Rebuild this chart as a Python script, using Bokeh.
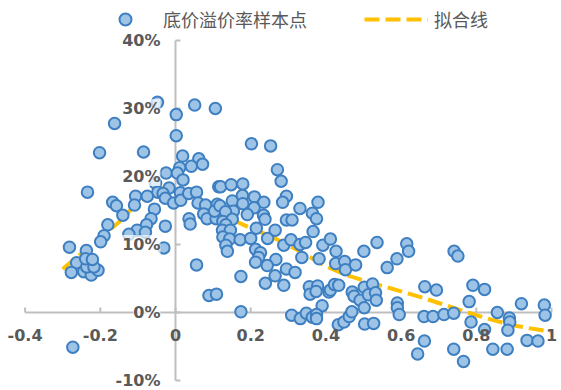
from bokeh.plotting import figure
from bokeh.models import Range1d, Legend, LegendItem
from bokeh.core.properties import value
from bokeh.embed import file_html
from bokeh.resources import INLINE

# ---- data ----
x_ratio = [
    -0.048, -0.162, -0.202, -0.085, -0.234, -0.053, -0.017, -0.047, -0.033, -0.027,
    -0.005, -0.106, -0.075, -0.167, -0.157, -0.109, -0.056, -0.140, -0.065, -0.077,
    -0.027, -0.180, -0.102, -0.124, -0.080, -0.190, -0.199, -0.282, -0.237, -0.031,
    -0.263, -0.277, -0.244, -0.224, -0.206, -0.236, -0.217, -0.239, -0.221, -0.273,
    0.002, 0.051, 0.106, 0.002, 0.019, 0.062, 0.072, 0.042, 0.011, -0.025,
    0.005, 0.020, 0.115, 0.013, 0.014, 0.035, 0.056, 0.060, 0.080, 0.111,
    0.075, 0.084, 0.108, 0.104, 0.036, 0.039, 0.120, 0.148, 0.179, 0.202,
    0.253, 0.271, 0.281, 0.118, 0.151, 0.178, 0.179, 0.210, 0.235, 0.209,
    0.154, 0.133, 0.191, 0.234, 0.238, 0.126, 0.151, 0.134, 0.125, 0.146,
    0.126, 0.144, 0.134, 0.138, 0.172, 0.200, 0.215, 0.245, 0.265, 0.288,
    0.307, 0.331, 0.346, 0.366, 0.392, 0.412, 0.427, 0.382, 0.336, 0.267,
    0.244, 0.295, 0.318, 0.265, 0.174, 0.056, 0.213, 0.226, 0.221, 0.213,
    0.426, 0.450, 0.452, 0.479, 0.501, 0.536, 0.563, 0.589, 0.615, 0.620,
    0.741, 0.751, 0.239, 0.288, 0.356, 0.378, 0.358, 0.374, 0.408, 0.412,
    0.423, 0.434, 0.470, 0.475, 0.491, 0.502, 0.524, 0.513, 0.532, 0.534,
    0.502, 0.390, 0.174, 0.089, 0.109, 0.309, 0.332, 0.348, 0.364, 0.375,
    0.375, 0.433, 0.448, 0.462, 0.469, 0.503, 0.527, 0.663, 0.694, 0.791,
    0.822, 0.781, 0.590, 0.590, 0.595, 0.661, 0.685, 0.714, 0.740, 0.786,
    0.822, 0.856, 0.888, 0.889, 0.884, 0.920, 0.981, 0.983, 0.662, 0.644,
    0.740, 0.766, 0.844, 0.882, 0.935, 0.964, 0.295, 0.285, 0.331, 0.379,
    0.364, 0.375, 0.295, 0.310,
]
premium_pct = [
    30.9, 27.8, 23.5, 23.6, 17.7, 19.0, 18.3, 17.7, 17.5, 16.8,
    16.1, 17.1, 17.1, 16.2, 15.7, 15.8, 15.2, 14.3, 13.8, 12.9,
    12.7, 12.9, 12.1, 11.5, 11.8, 11.3, 10.4, 9.6, 9.1, 9.5,
    7.3, 5.9, 6.0, 5.5, 6.2, 6.7, 6.7, 7.9, 7.8, -5.1,
    29.1, 30.5, 30.0, 26.0, 23.0, 22.6, 21.8, 21.5, 21.3, 20.5,
    20.5, 19.5, 18.5, 17.6, 16.5, 17.5, 17.7, 16.1, 15.8, 15.9,
    14.5, 13.8, 13.8, 14.9, 13.8, 13.0, 18.5, 18.8, 18.9, 24.8,
    24.5, 21.0, 19.3, 15.7, 16.4, 17.2, 16.0, 17.0, 16.2, 15.4,
    14.9, 14.8, 14.4, 14.3, 13.7, 13.4, 13.7, 12.9, 12.1, 12.1,
    11.1, 10.8, 9.9, 9.0, 10.7, 10.9, 12.4, 10.9, 12.1, 9.9,
    10.7, 10.0, 10.3, 11.9, 9.9, 10.8, 9.0, 7.9, 8.1, 7.8,
    6.9, 6.4, 5.9, 5.4, 5.3, 7.0, 9.3, 8.8, 8.1, 7.4,
    7.2, 7.5, 6.3, 7.0, 9.0, 10.3, 6.6, 7.9, 10.1, 9.0,
    9.0, 8.3, 4.3, 4.0, 3.8, 3.9, 2.7, 3.1, 3.0, 3.3,
    4.1, 4.0, 3.0, 2.4, 1.8, 3.7, 4.2, 2.6, 2.9, 1.8,
    0.7, 1.0, 0.1, 2.5, 2.7, -0.4, -0.9, -0.1, -0.7, -0.3,
    -0.9, -1.8, -1.4, -0.6, 0.1, -1.7, -1.6, 3.8, 3.3, 4.0,
    3.4, 1.6, 1.4, 0.7, -0.3, -0.6, -0.6, -0.3, -0.1, -1.4,
    -2.5, 0.0, -0.8, -1.4, -2.6, 1.3, 1.1, -0.4, -4.2, -6.1,
    -5.4, -7.2, -5.4, -5.4, -4.1, -4.2, 17.1, 16.2, 15.3, 16.2,
    14.6, 13.8, 13.6, 13.6,
]
fit_x = [-0.30, -0.25, -0.20, -0.15, -0.10, -0.05, -0.02, 0.00, 0.05, 0.10,
         0.15, 0.20, 0.25, 0.30, 0.35, 0.40, 0.45, 0.50, 0.55, 0.60,
         0.65, 0.70, 0.75, 0.80, 0.85, 0.90, 0.95, 1.00]
fit_y = [6.4, 8.7, 11.0, 13.3, 16.2, 18.0, 18.5, 18.4, 17.2, 15.5,
         13.7, 12.4, 11.3, 9.9, 8.4, 6.8, 5.6, 4.7, 3.9, 3.1,
         2.3, 1.4, 0.5, -0.4, -1.2, -1.9, -2.4, -2.8]
x_ticks = [-0.4, -0.2, 0.0, 0.2, 0.4, 0.6, 0.8, 1.0]
x_tick_labels = ["-0.4", "-0.2", "0", "0.2", "0.4", "0.6", "0.8", "1"]
y_ticks = [-10, 0, 10, 20, 30, 40]
y_tick_labels = ["-10%", "0%", "10%", "20%", "30%", "40%"]
series_names = ["底价溢价率样本点", "拟合线"]

AXIS_GREY = "#BFBFBF"
TEXT_GREY = "#595959"
X_LO, X_HI = -0.4654, 1.0266
Y_LO, Y_HI = -11.47, 45.88
W, H = 561, 390
TICK_PX = 5

p = figure(width=W, height=H, output_backend="svg", toolbar_location=None,
           x_range=Range1d(X_LO, X_HI), y_range=Range1d(Y_LO, Y_HI),
           x_axis_type=None, y_axis_type=None,
           min_border_left=0, min_border_right=0, min_border_top=0, min_border_bottom=0)
p.outline_line_color = None
p.background_fill_color = "white"
p.border_fill_color = "white"

# axis rules crossing at the origin, with short inward tick marks
px_x = (X_HI - X_LO) / W
px_y = (Y_HI - Y_LO) / H
p.line([x_ticks[0], x_ticks[-1]], [0, 0], line_color=AXIS_GREY, line_width=2)
p.line([0, 0], [y_ticks[0], y_ticks[-1]], line_color=AXIS_GREY, line_width=2)
p.multi_line(xs=[[t, t] for t in x_ticks], ys=[[0, TICK_PX * px_y] for _ in x_ticks],
             line_color=AXIS_GREY, line_width=2)
p.multi_line(xs=[[0, TICK_PX * px_x] for _ in y_ticks], ys=[[t, t] for t in y_ticks],
             line_color=AXIS_GREY, line_width=2)

fit = p.line(fit_x, fit_y, line_color="#FFC000", line_width=4, line_dash="15 6")
pts = p.scatter(x_ratio, premium_pct, size=11.5, marker="circle",
                fill_color="#9DC3E6", line_color="#3D7FC1", line_width=2)

# tick labels (text glyphs placed at the ticks, beside the origin-crossing axes)
lab = dict(text_font=value("DejaVu Sans"), text_font_style="bold",
           text_font_size="16px", text_color=TEXT_GREY)
p.text(x=x_ticks, y=[0] * len(x_ticks), text=x_tick_labels, y_offset=16,
       text_align="center", text_baseline="top", **lab)
try:
    p.text(x=[0] * len(y_ticks), y=y_ticks, text=y_tick_labels, x_offset=-15,
           text_align="right", text_baseline="middle",
           background_fill_color="white", background_fill_alpha=0.7, **lab)
except Exception:
    p.text(x=[0] * len(y_ticks), y=y_ticks, text=y_tick_labels, x_offset=-15,
           text_align="right", text_baseline="middle", **lab)

legend = Legend(items=[LegendItem(label=series_names[0], renderers=[pts]),
                       LegendItem(label=series_names[1], renderers=[fit])],
                orientation="horizontal", location=(93, 356),
                glyph_width=64, glyph_height=30, label_height=30, label_standoff=6,
                spacing=57, padding=0, margin=0,
                border_line_color=None, background_fill_alpha=0,
                label_text_font="Noto Sans CJK SC", label_text_font_size="18px",
                label_text_color=TEXT_GREY)
p.add_layout(legend)

open("out.html", "w").write(file_html(p, INLINE))
